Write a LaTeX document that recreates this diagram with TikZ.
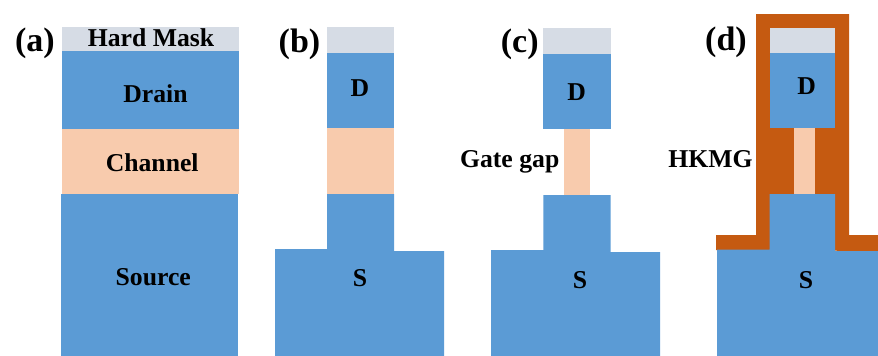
\documentclass[tikz,border=0pt]{standalone}
\usepackage{fontspec}
\setmainfont{Liberation Serif}
\definecolor{siblue}{HTML}{5B9BD5}
\definecolor{peach}{HTML}{F8CBAD}
\definecolor{maskgray}{HTML}{D6DCE5}
\definecolor{hkmg}{HTML}{C55A11}
\tikzset{
  silicon/.style={fill=siblue,draw=none},
  channel/.style={fill=peach,draw=none},
  hardmask/.style={fill=maskgray,draw=none},
  metal/.style={fill=hkmg,draw=none},
  lbl/.style={anchor=base,inner sep=0pt,font=\fontsize{25.7}{28}\selectfont\bfseries,text=black},
  tag/.style={anchor=base,inner sep=0pt,font=\fontsize{34}{38}\selectfont\bfseries,text=black}
}
\begin{document}
\begin{tikzpicture}[x=1pt,y=-1pt]
\useasboundingbox (0,0) rectangle (878,356);
% panel a
\fill[hardmask] (62,27) rectangle (238.5,50.5);
\fill[silicon] (62,50.5) rectangle (238.5,128.5);
\fill[channel] (62,128.5) rectangle (238.5,194);
\fill[silicon] (61,194) rectangle (238,356);
% panel b
\fill[hardmask] (327,27) rectangle (394,53);
\fill[silicon] (327,53) rectangle (394,128);
\fill[channel] (327,128) rectangle (393.5,194);
\fill[silicon] (327,194) -- (394,194) -- (394,251) -- (444,251) -- (444,356) -- (275,356) -- (275,249) -- (327,249) -- cycle;
% panel c
\fill[hardmask] (543.3,28) rectangle (610.5,54);
\fill[silicon] (543.3,54) rectangle (610.5,129);
\fill[channel] (564,129) rectangle (590,195);
\fill[silicon] (543.3,195) -- (610.5,195) -- (610.5,252) -- (660,252) -- (660,356) -- (491,356) -- (491,250) -- (543.3,250) -- cycle;
% panel d
\fill[metal] (756,14) -- (849,14) -- (849,235) -- (878,235) -- (878,251) -- (716,250) -- (716,235) -- (756,235) -- cycle;
\fill[hardmask] (769.5,28) rectangle (835,53);
\fill[silicon] (769.5,53) rectangle (835,127.5);
\fill[channel] (794,127.5) rectangle (815,194.5);
\fill[silicon] (769.5,194) -- (835,194) -- (835,251) -- (878,251) -- (878,356) -- (717,356) -- (717,249.5) -- (769.5,249.5) -- cycle;
% labels
\node[tag] (taga) at (35,51) {(a)};
\node[tag] (tagb) at (299.5,52) {(b)};
\node[tag] (tagc) at (519.7,52) {(c)};
\node[tag] (tagd) at (726,50) {(d)};
\node[lbl] (mask) at (151,46) {Hard Mask};
\node[lbl] (drain) at (155.5,102.7) {Drain};
\node[lbl] (chan) at (152.2,171) {Channel};
\node[lbl] (source) at (153.3,285) {Source};
\node[lbl] (db) at (360,96.7) {D};
\node[lbl] (sb) at (360,286) {S};
\node[lbl] (dc) at (576.7,100.7) {D};
\node[lbl] (gap) at (509.7,167.7) {Gate gap};
\node[lbl] (sc) at (580,288.7) {S};
\node[lbl] (dd) at (806.7,94) {D};
\node[lbl] (hk) at (710.5,167) {HKMG};
\node[lbl] (sd) at (806,288.7) {S};
\end{tikzpicture}
\end{document}
